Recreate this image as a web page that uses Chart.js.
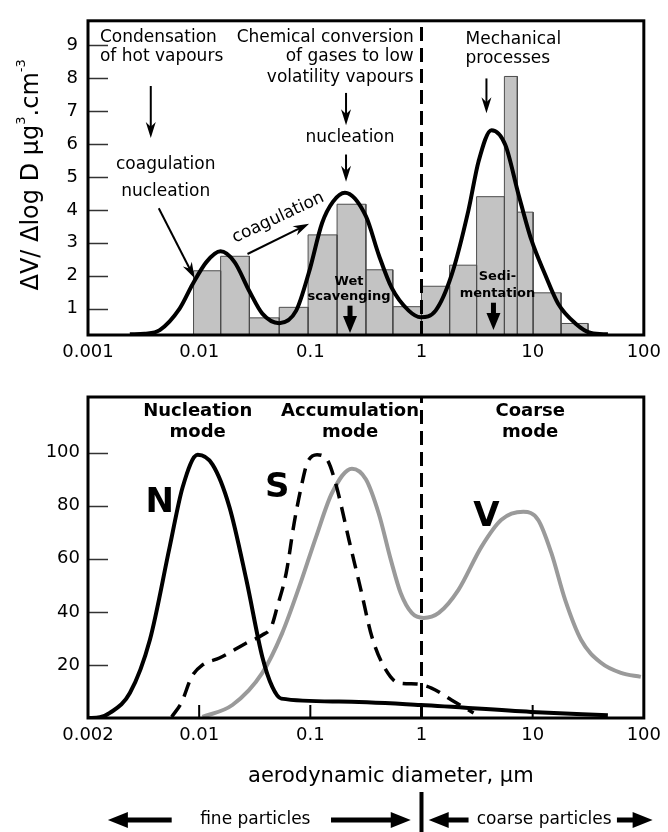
<!DOCTYPE html>
<html>
<head>
<meta charset="utf-8">
<script src="https://cdn.jsdelivr.net/npm/chart.js@4.4.1/dist/chart.umd.min.js"></script>
<style>
    body { margin: 0; background: #fff; }
    #wrap { position: relative; width: 668px; height: 832px; }
    #topChart { position: absolute; left: 0; top: 0; }
    #bottomChart { position: absolute; left: 0; top: 375px; }
</style>
</head>
<body>
<div id="wrap">
    <canvas id="topChart" width="668" height="375"></canvas>
    <canvas id="bottomChart" width="668" height="457"></canvas>
</div>
<script>
const FONT = "'DejaVu Sans', Verdana, sans-serif";

// ejes compartidos
const xTickValues = [0.001, 0.01, 0.1, 1, 10, 100];
const topXLabels = ['0.001', '0.01', '0.1', '1', '10', '100'];
const bottomXLabels = ['0.002', '0.01', '0.1', '1', '10', '100'];
const topYTicks = [1, 2, 3, 4, 5, 6, 7, 8, 9];
const bottomYTicks = [20, 40, 60, 80, 100];
const fineCoarseCut = 1;

// histograma (bordes de clase en µm y alturas)
const binEdges = [0.0089, 0.0156, 0.0283, 0.0525, 0.0955, 0.174, 0.316, 0.552, 1.0, 1.79, 3.13, 5.57, 7.28, 10.1, 18.0, 31.5];
const binHeights = [2.15, 2.59, 0.72, 1.04, 3.24, 4.17, 2.18, 1.06, 1.68, 2.32, 4.40, 8.05, 3.93, 1.48, 0.55];

// curva ajustada sobre el histograma
const fitX = [0.00238, 0.00324, 0.00442, 0.00667, 0.00873, 0.01165, 0.01556, 0.02075, 0.0283, 0.037, 0.0525, 0.0746, 0.0975, 0.1276, 0.16, 0.205, 0.316, 0.413, 0.54, 0.767, 0.984, 1.34, 1.87, 2.65, 3.26, 4.26, 5.68, 7.43, 9.71, 12.97, 16.96, 24.1, 33.5, 47.5];
const fitY = [0.22, 0.24, 0.35, 1.0, 1.74, 2.42, 2.74, 2.42, 1.53, 0.85, 0.56, 0.94, 2.12, 3.6, 4.25, 4.52, 3.81, 2.63, 1.63, 0.94, 0.74, 0.94, 2.03, 4.0, 5.47, 6.42, 5.97, 4.49, 3.1, 2.03, 1.15, 0.56, 0.26, 0.22];

// modos N, S, V
const nX = [0.001, 0.00128, 0.00157, 0.00238, 0.0036, 0.00543, 0.0071, 0.0097, 0.0132, 0.0187, 0.0266, 0.037, 0.0455, 0.0548, 0.181, 0.984, 9.7, 47.5];
const nY = [0, 0.3, 1.9, 9.4, 29.4, 64.5, 87, 99.2, 95.5, 79.6, 52, 23, 11.7, 7.3, 6.2, 4.9, 2.3, 1.0];
const sX = [0.00566, 0.00696, 0.00855, 0.0107, 0.0152, 0.0266, 0.037, 0.0445, 0.0504, 0.0607, 0.0716, 0.0827, 0.0936, 0.115, 0.1415, 0.170, 0.223, 0.285, 0.358, 0.478, 0.625, 0.906, 1.23, 1.86, 2.94];
const sY = [0.4, 6, 15.5, 20, 22.6, 28.3, 31.3, 34.3, 41.9, 54.7, 73.6, 87, 96, 99.2, 97.4, 88, 67, 48.3, 30.6, 18.1, 13.2, 12.8, 11.3, 6.8, 1.9];
const vX = [0.0107, 0.0199, 0.037, 0.0558, 0.0794, 0.1127, 0.157, 0.237, 0.316, 0.413, 0.530, 0.651, 0.817, 1.047, 1.43, 2.15, 3.46, 5.23, 8.24, 11.2, 14.7, 19.6, 27.3, 41.2, 62.3, 94];
const vY = [0.4, 4.9, 17, 32, 49.4, 68.3, 84.9, 94, 90, 77, 59.6, 47, 39.6, 37.7, 39.6, 48.3, 64.5, 74.7, 77.7, 74.7, 62.3, 44.5, 29.4, 20.8, 17, 15.5];

const topYMin = 0.2, topYMax = 9.74;
const bottomYMin = 0, bottomYMax = 121;

// textos y flechas (en coordenadas de datos)
const topNotes = [
    { text: 'Condensation', x: 0.00128, y: 9.24, align: 'left' },
    { text: 'of hot vapours', x: 0.00128, y: 8.64, align: 'left' },
    { text: 'coagulation', x: 0.0050, y: 5.36 },
    { text: 'nucleation', x: 0.0050, y: 4.56 },
    { text: 'coagulation', x: 0.0514, y: 3.76, angle: -25 },
    { text: 'Chemical conversion', x: 0.851, y: 9.24, align: 'right' },
    { text: 'of gases to low', x: 0.851, y: 8.64, align: 'right' },
    { text: 'volatility vapours', x: 0.851, y: 8.02, align: 'right' },
    { text: 'nucleation', x: 0.2275, y: 6.18 },
    { text: 'Mechanical', x: 2.49, y: 9.18, align: 'left' },
    { text: 'processes', x: 2.49, y: 8.58, align: 'left' },
    { text: 'Wet', x: 0.223, y: 1.83, bold: true, size: 13 },
    { text: 'scavenging', x: 0.223, y: 1.36, bold: true, size: 13 },
    { text: 'Sedi-', x: 4.82, y: 1.98, bold: true, size: 13 },
    { text: 'mentation', x: 4.82, y: 1.47, bold: true, size: 13 }
];
const topArrows = [
    { x1: 0.00367, y1: 7.76, x2: 0.00367, y2: 6.18 },
    { x1: 0.00433, y1: 4.05, x2: 0.0091, y2: 1.92 },
    { x1: 0.0272, y1: 2.66, x2: 0.0975, y2: 3.58 },
    { x1: 0.2095, y1: 7.55, x2: 0.2095, y2: 6.57 },
    { x1: 0.2095, y1: 5.68, x2: 0.2095, y2: 4.85 },
    { x1: 3.84, y1: 7.99, x2: 3.84, y2: 6.93 },
    { x1: 0.2275, y1: 1.09, x2: 0.2275, y2: 0.26, thick: true },
    { x1: 4.44, y1: 1.18, x2: 4.44, y2: 0.35, thick: true }
];
const bottomNotes = [
    { text: 'Nucleation', x: 0.0097, y: 115.5, bold: true, size: 18 },
    { text: 'mode', x: 0.0097, y: 107.5, bold: true, size: 18 },
    { text: 'Accumulation', x: 0.2275, y: 115.5, bold: true, size: 18 },
    { text: 'mode', x: 0.2275, y: 107.5, bold: true, size: 18 },
    { text: 'Coarse', x: 9.5, y: 115.5, bold: true, size: 18 },
    { text: 'mode', x: 9.5, y: 107.5, bold: true, size: 18 },
    { text: 'N', x: 0.00442, y: 81.1, bold: true, size: 34 },
    { text: 'S', x: 0.0505, y: 86.8, bold: true, size: 34 },
    { text: 'V', x: 3.84, y: 75.8, bold: true, size: 34 }
];
// debajo del eje: dy = píxeles bajo el borde inferior del área
const belowNotes = [
    { text: 'aerodynamic diameter, µm', x: 0.530, dy: 59, size: 21 },
    { text: 'fine particles', x: 0.032, dy: 102, size: 17 },
    { text: 'coarse particles', x: 12.7, dy: 102, size: 17 }
];
const belowArrows = [
    { x1: 0.00566, x2: 0.00151, dy: 102 },
    { x1: 0.1535, x2: 0.80, dy: 102 },
    { x1: 2.65, x2: 1.16, dy: 102 },
    { x1: 57.3, x2: 120, dy: 102 }
];

const pts = (xs, ys) => xs.map((x, i) => ({ x: x, y: ys[i] }));

function drawLabel(ctx, n, px, py) {
    ctx.save();
    ctx.font = (n.bold ? 'bold ' : '') + (n.size || 17) + 'px ' + FONT;
    ctx.textAlign = n.align || 'center';
    ctx.textBaseline = 'middle';
    ctx.fillStyle = '#000';
    ctx.translate(px, py);
    if (n.angle) ctx.rotate(n.angle * Math.PI / 180);
    ctx.fillText(n.text, 0, 0);
    ctx.restore();
}

function drawArrow(ctx, x1, y1, x2, y2, shaft, len, half, notch) {
    const a = Math.atan2(y2 - y1, x2 - x1), c = Math.cos(a), s = Math.sin(a);
    const bx = x2 - len * c, by = y2 - len * s;
    const nx = bx + notch * len * c, ny = by + notch * len * s;
    ctx.lineWidth = shaft;
    ctx.beginPath();
    ctx.moveTo(x1, y1);
    ctx.lineTo(nx + 1 * c, ny + 1 * s);
    ctx.stroke();
    ctx.beginPath();
    ctx.moveTo(x2, y2);
    ctx.lineTo(bx - half * s, by + half * c);
    ctx.lineTo(nx, ny);
    ctx.lineTo(bx + half * s, by - half * c);
    ctx.closePath();
    ctx.fill();
}

function innerYTicks(ctx, a, yScale, values) {
    ctx.strokeStyle = '#333';
    ctx.lineWidth = 1.5;
    values.forEach(v => {
        const py = Math.round(yScale.getPixelForValue(v)) + 0.5;
        ctx.beginPath();
        ctx.moveTo(a.left, py);
        ctx.lineTo(a.left + 20, py);
        ctx.stroke();
    });
}

const topDecor = {
    id: 'topDecor',
    afterDatasetsDraw(chart) {
        const { ctx, chartArea: a, scales: { x, y } } = chart;
        ctx.save();
        innerYTicks(ctx, a, y, topYTicks);
        ctx.strokeStyle = '#000';
        ctx.lineWidth = 3;
        ctx.strokeRect(a.left, a.top, a.right - a.left, a.bottom - a.top);

        topNotes.forEach(n => drawLabel(ctx, n, x.getPixelForValue(n.x), y.getPixelForValue(n.y)));
        ctx.fillStyle = '#000';
        ctx.strokeStyle = '#000';
        topArrows.forEach(r => {
            if (r.thick) {
                drawArrow(ctx, x.getPixelForValue(r.x1), y.getPixelForValue(r.y1), x.getPixelForValue(r.x2), y.getPixelForValue(r.y2), 5, 17, 7, 0);
            } else {
                drawArrow(ctx, x.getPixelForValue(r.x1), y.getPixelForValue(r.y1), x.getPixelForValue(r.x2), y.getPixelForValue(r.y2), 2, 16, 5, 0.3);
            }
        });

        // título del eje Y con superíndices
        ctx.translate(38, (a.top + a.bottom) / 2 - 3);
        ctx.rotate(-Math.PI / 2);
        const parts = [['ΔV/ Δlog D µg', 24, 0], ['3', 13, -13], ['.cm', 24, 0], ['-3', 13, -13]];
        let total = 0;
        parts.forEach(p => { ctx.font = p[1] + 'px ' + FONT; p.w = ctx.measureText(p[0]).width; total += p.w; });
        let cx = -total / 2;
        ctx.textAlign = 'left';
        ctx.textBaseline = 'alphabetic';
        parts.forEach(p => { ctx.font = p[1] + 'px ' + FONT; ctx.fillText(p[0], cx, p[2]); cx += p.w; });
        ctx.restore();
    }
};

const bottomDecor = {
    id: 'bottomDecor',
    afterDatasetsDraw(chart) {
        const { ctx, chartArea: a, scales: { x, y } } = chart;
        ctx.save();
        innerYTicks(ctx, a, y, bottomYTicks);
        ctx.strokeStyle = '#000';
        ctx.lineWidth = 2;
        xTickValues.slice(1, -1).forEach(v => {
            const px = x.getPixelForValue(v);
            ctx.beginPath();
            ctx.moveTo(px, a.bottom);
            ctx.lineTo(px, a.bottom - 13);
            ctx.stroke();
        });
        ctx.lineWidth = 3;
        ctx.strokeRect(a.left, a.top, a.right - a.left, a.bottom - a.top);

        bottomNotes.forEach(n => drawLabel(ctx, n, x.getPixelForValue(n.x), y.getPixelForValue(n.y)));
        belowNotes.forEach(n => drawLabel(ctx, n, x.getPixelForValue(n.x), a.bottom + n.dy));

        ctx.fillStyle = '#000';
        ctx.strokeStyle = '#000';
        belowArrows.forEach(r => {
            drawArrow(ctx, x.getPixelForValue(r.x1), a.bottom + r.dy, x.getPixelForValue(r.x2), a.bottom + r.dy, 5, 20, 8, 0);
        });
        const cut = x.getPixelForValue(fineCoarseCut);
        ctx.lineWidth = 4;
        ctx.beginPath();
        ctx.moveTo(cut, a.bottom + 74);
        ctx.lineTo(cut, a.bottom + 116);
        ctx.stroke();
        ctx.restore();
    }
};

function xScale(labels, height) {
    return {
        type: 'logarithmic',
        min: xTickValues[0],
        max: xTickValues[xTickValues.length - 1],
        afterBuildTicks: s => { s.ticks = xTickValues.map(v => ({ value: v })); },
        afterFit: s => { s.height = height; },
        grid: { display: false, drawTicks: false },
        border: { display: false },
        ticks: {
            autoSkip: false,
            maxRotation: 0,
            padding: 7,
            color: '#000',
            font: { family: FONT, size: 18 },
            callback: (v, i) => labels[i]
        }
    };
}

function yScale(min, max, ticks, pad) {
    return {
        type: 'linear',
        min: min,
        max: max,
        afterBuildTicks: s => { s.ticks = ticks.map(v => ({ value: v })); },
        afterFit: s => { s.width = 88; },
        grid: { display: false, drawTicks: false },
        border: { display: false },
        ticks: { padding: pad, color: '#000', font: { family: FONT, size: 18 } }
    };
}

const dividerLine = (min, max) => ({
    data: [{ x: fineCoarseCut, y: min }, { x: fineCoarseCut, y: max }],
    borderColor: '#000',
    borderWidth: 3,
    borderDash: [14, 7],
    pointRadius: 0,
    fill: false,
    order: 1
});

// histograma: cada barra como rectángulo relleno hasta el mínimo del eje
const barSets = binHeights.map((h, i) => ({
    data: [
        { x: binEdges[i], y: topYMin },
        { x: binEdges[i], y: h },
        { x: binEdges[i + 1], y: h },
        { x: binEdges[i + 1], y: topYMin }
    ],
    fill: 'start',
    backgroundColor: '#c3c3c3',
    borderColor: '#4d4d4d',
    borderWidth: 1,
    pointRadius: 0,
    tension: 0,
    order: 3
}));

new Chart(document.getElementById('topChart'), {
    type: 'line',
    data: {
        datasets: [
            {
                data: pts(fitX, fitY),
                borderColor: '#000',
                borderWidth: 4,
                pointRadius: 0,
                fill: false,
                cubicInterpolationMode: 'monotone',
                order: 0
            },
            dividerLine(topYMin, topYMax),
            ...barSets
        ]
    },
    options: {
        responsive: false,
        animation: false,
        devicePixelRatio: 1,
        events: [],
        layout: { padding: { top: 13, right: 22, left: 0, bottom: 0 } },
        plugins: { legend: { display: false }, tooltip: { enabled: false } },
        scales: {
            x: xScale(topXLabels, 40),
            y: yScale(topYMin, topYMax, topYTicks, 10)
        }
    },
    plugins: [topDecor]
});

new Chart(document.getElementById('bottomChart'), {
    type: 'line',
    data: {
        datasets: [
            {
                data: pts(nX, nY),
                borderColor: '#000',
                borderWidth: 4,
                pointRadius: 0,
                fill: false,
                cubicInterpolationMode: 'monotone',
                order: 0
            },
            {
                data: pts(sX, sY),
                borderColor: '#000',
                borderWidth: 3.5,
                borderDash: [15, 9],
                pointRadius: 0,
                fill: false,
                cubicInterpolationMode: 'monotone',
                order: 0
            },
            {
                data: pts(vX, vY),
                borderColor: '#9a9a9a',
                borderWidth: 4,
                pointRadius: 0,
                fill: false,
                cubicInterpolationMode: 'monotone',
                order: 2
            },
            dividerLine(bottomYMin, bottomYMax)
        ]
    },
    options: {
        responsive: false,
        animation: false,
        devicePixelRatio: 1,
        events: [],
        layout: { padding: { top: 22, right: 22, left: 0, bottom: 0 } },
        plugins: { legend: { display: false }, tooltip: { enabled: false } },
        scales: {
            x: xScale(bottomXLabels, 114),
            y: yScale(bottomYMin, bottomYMax, bottomYTicks, 8)
        }
    },
    plugins: [bottomDecor]
});
</script>
</body>
</html>
